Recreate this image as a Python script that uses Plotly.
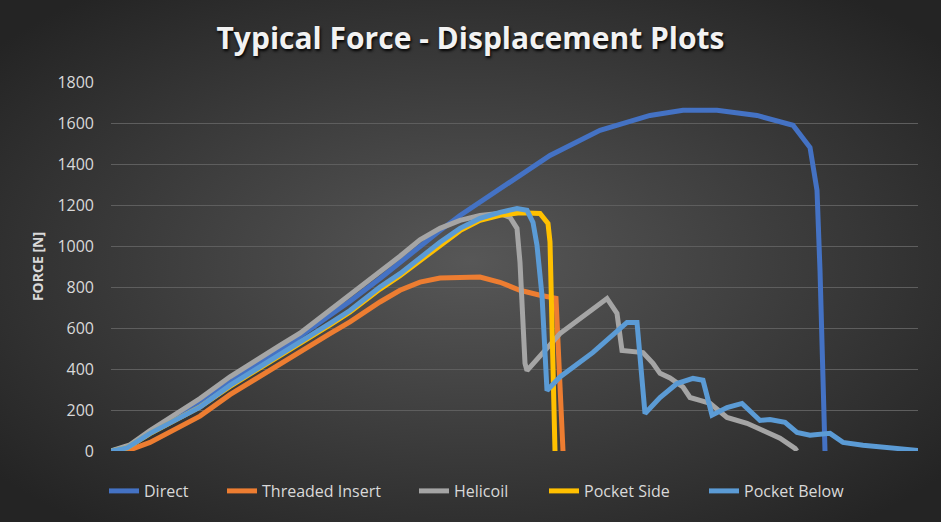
import base64
import plotly.graph_objects as go

# displacement (mm) / force (N)
direct_x = [0, 0.19, 0.39, 0.89, 1.39, 1.69, 1.89, 2.19, 2.39, 2.69, 2.89, 3.09, 3.29, 3.49,
            3.79, 3.89, 4.39, 4.89, 5.39, 5.72, 6.06, 6.46, 6.82, 6.99, 7.06, 7.09, 7.14]
direct_y = [0, 25, 90, 235, 400, 490, 560, 662, 730, 842, 920, 1003, 1075, 1149,
            1246, 1285, 1442, 1564, 1637, 1662, 1662, 1637, 1589, 1481, 1272, 881, 0]

threaded_x = [0, 0.17, 0.39, 0.89, 1.19, 1.39, 1.69, 1.89, 2.19, 2.39, 2.69, 2.89, 3.09,
              3.29, 3.69, 3.89, 4.09, 4.29, 4.42, 4.45, 4.52]
threaded_y = [0, 2, 42, 170, 275, 335, 428, 486, 573, 630, 727, 784, 824,
              844, 849, 823, 784, 760, 748, 745, 0]

helicoil_x = [0, 0.19, 0.39, 0.89, 1.19, 1.39, 1.69, 1.89, 2.19, 2.39, 2.69, 2.89, 3.09,
              3.29, 3.49, 3.69, 3.89, 3.99, 4.06, 4.09, 4.14, 4.16, 4.49, 4.96, 5.06,
              5.11, 5.32, 5.42, 5.49, 5.59, 5.72, 5.79, 5.89, 5.99, 6.16, 6.36, 6.52,
              6.69, 6.84, 6.86]
helicoil_y = [0, 30, 100, 256, 362, 425, 515, 575, 686, 760, 870, 950, 1030,
              1086, 1125, 1149, 1159, 1140, 1086, 920, 427, 392, 573, 744, 671,
              490, 480, 428, 379, 356, 312, 261, 247, 233, 164, 135, 100,
              62, 13, 0]

side_x = [0, 0.16, 0.39, 0.89, 1.19, 1.39, 1.69, 1.89, 2.19, 2.39, 2.69, 2.89, 3.09,
          3.29, 3.49, 3.69, 3.89, 4.09, 4.29, 4.37, 4.39, 4.44]
side_y = [0, 15, 85, 215, 315, 375, 460, 522, 615, 678, 790, 855, 930,
          1005, 1075, 1125, 1150, 1162, 1159, 1110, 1020, 0]

below_x = [0, 0.16, 0.39, 0.89, 1.19, 1.39, 1.69, 1.89, 2.19, 2.39, 2.69, 2.89, 3.09,
           3.29, 3.49, 3.69, 3.89, 4.06, 4.16, 4.22, 4.26, 4.31, 4.36, 4.49, 4.82,
           5.16, 5.26, 5.34, 5.49, 5.66, 5.82, 5.92, 6.01, 6.16, 6.31, 6.39, 6.49,
           6.59, 6.74, 6.86, 6.99, 7.19, 7.32, 7.52, 7.76, 7.86, 8.07]
below_y = [0, 15, 86, 214, 320, 380, 467, 530, 622, 685, 800, 865, 945,
           1018, 1086, 1135, 1164, 1183, 1174, 1115, 1003, 759, 295, 361, 481,
           627, 627, 183, 261, 329, 354, 345, 175, 212, 232, 198, 149,
           154, 140, 91, 77, 86, 42, 28, 18, 8, 3]

series = [
    ("Direct", direct_x, direct_y, "#4472C4"),
    ("Threaded Insert", threaded_x, threaded_y, "#ED7D31"),
    ("Helicoil", helicoil_x, helicoil_y, "#A5A5A5"),
    ("Pocket Side", side_x, side_y, "#FFC000"),
    ("Pocket Below", below_x, below_y, "#5B9BD5"),
]

W, H = 941, 522
L, R, T, B = 111, 23, 82, 71
pw, ph = W - L - R, H - T - B

# where each legend entry's text begins (px), like excel spaces them
legend_text_px = [145, 263, 455, 585, 745]

fig = go.Figure()
legends = {}
for i, (name, xs, ys, col) in enumerate(series):
    key = "legend" if i == 0 else "legend%d" % (i + 1)
    fig.add_trace(go.Scatter(x=xs, y=ys, mode="lines", name=name,
                             line=dict(color=col, width=5), legend=key))
    legends[key] = dict(orientation="h", x=(legend_text_px[i] - 41 - L) / pw,
                        xanchor="left", y=-40 / ph, yanchor="middle",
                        font=dict(size=16, color="#D9D9D9"),
                        bgcolor="rgba(0,0,0,0)")

# dark radial background like the excel style
svg = ('<svg xmlns="http://www.w3.org/2000/svg" width="941" height="522">'
       '<defs><radialGradient id="g" cx="50%" cy="50%" r="65%">'
       '<stop offset="0%" stop-color="#575757"/>'
       '<stop offset="100%" stop-color="#242424"/>'
       '</radialGradient></defs>'
       '<rect width="941" height="522" fill="url(#g)"/></svg>')
bg = "data:image/svg+xml;base64," + base64.b64encode(svg.encode()).decode()

fig.add_layout_image(dict(source=bg, xref="paper", yref="paper",
                          x=-L / pw, y=1 + T / ph, sizex=W / pw, sizey=H / ph,
                          xanchor="left", yanchor="top", sizing="stretch",
                          layer="below"))

fig.update_layout(
    width=W, height=H,
    margin=dict(l=L, r=R, t=T, b=B, autoexpand=False),
    paper_bgcolor="#333333",
    plot_bgcolor="rgba(0,0,0,0)",
    font=dict(family="Open Sans", color="#D9D9D9"),
    title=dict(text="<b>Typical Force - Displacement Plots</b>",
               x=0.5, xref="container", xanchor="center",
               y=1 - 38 / H, yref="container", yanchor="middle",
               font=dict(size=30, color="#F2F2F2", family="Open Sans",
                         shadow="1px 2px 3px #000000")),
    xaxis=dict(range=[0, 8.07], showticklabels=False, showgrid=False,
               zeroline=False, showline=False, ticks=""),
    yaxis=dict(range=[0, 1800], dtick=200, showgrid=True, gridcolor="#5E5E5E",
               gridwidth=1, zeroline=False, showline=False,
               tickfont=dict(size=16, color="#D9D9D9"), ticklabelstandoff=16,
               title=dict(text="<b>FORCE [N]</b>", font=dict(size=14, color="#D9D9D9"),
                          standoff=10)),
    showlegend=True,
    **legends,
)

fig.write_html("out.html", config={"displayModeBar": False},
               post_script="document.body.style.margin='0';document.body.style.overflow='hidden';")
